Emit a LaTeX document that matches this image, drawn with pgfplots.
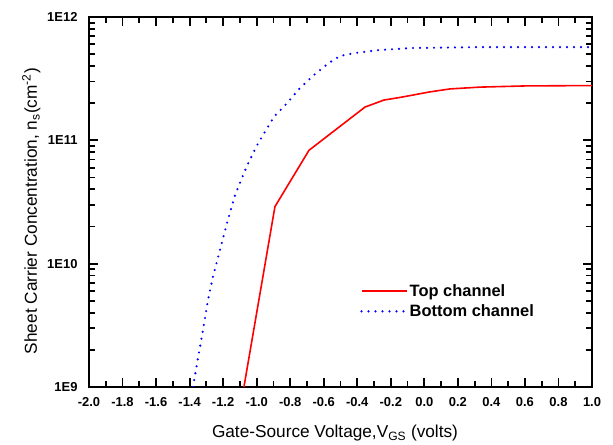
\documentclass[border=0pt]{standalone}
\usepackage{fontspec}
\setmainfont{Liberation Sans}
\usepackage{pgfplots}
\pgfplotsset{compat=1.18}

\begin{document}
\begin{tikzpicture}
\begin{axis}[
  scale only axis,
  width=503bp, height=370bp,
  ymode=log,
  xmin=-2, xmax=1, ymin=1e9, ymax=1e12,
  tick align=inside,
  xtick pos=both, ytick pos=both,
  major tick length=9bp, minor tick length=6bp,
  every tick/.append style={black,line width=1.8bp},
  axis line style={black,line width=1.5bp},
  xtick={-2,-1.8,...,1.01},
  minor x tick num=1,
  ytick={1e9,1e10,1e11,1e12},
  yticklabels={1E9,1E10,1E11,1E12},
  xticklabel={\pgfmathprintnumber[assume math mode=true,fixed,fixed zerofill,precision=1]{\tick}},
  xticklabel style={font=\bfseries\fontsize{13}{13}\selectfont,anchor=base,yshift=-20bp},
  yticklabel style={font=\bfseries\fontsize{13}{13}\selectfont,xshift=-8bp},
  xlabel={Gate-Source Voltage,V\textsubscript{GS} (volts)},
  ylabel={Sheet Carrier Concentration, n\textsubscript{s}(cm\textsuperscript{-2})},
  label style={font=\fontsize{17.3}{17.3}\selectfont},
  xlabel style={at={(axis description cs:0.489,-0.1378)},anchor=base},
  ylabel style={at={(axis description cs:-0.1034,0.475)},anchor=base},
  legend style={at={(axis description cs:0.539,0.232)},anchor=west,draw=none,fill=none,
    inner sep=0pt,row sep=3bp,font=\bfseries\fontsize{16.5}{16.5}\selectfont},
  legend cell align={left},
  legend image code/.code={\draw[#1] (0bp,0bp) -- (45bp,0bp);},
]
% top channel
\addplot[red,line width=1.6bp] coordinates {
  (-1.076,1e9) (-0.891,2.9e10) (-0.688,8.3e10) (-0.354,1.86e11)
  (-0.241,2.12e11) (-0.134,2.24e11) (0.033,2.47e11) (0.153,2.61e11)
  (0.332,2.70e11) (0.6,2.76e11) (1.0,2.78e11)
};
\addlegendentry{Top channel}
% bottom channel
\addplot[blue,line width=2.4bp,line cap=round,dash pattern=on 0pt off 7bp] coordinates {
  (-1.38,1e9) (-1.35,1.71e9) (-1.32,2.9e9) (-1.29,5.1e9) (-1.261,7.8e9)
  (-1.219,1.29e10) (-1.177,2.13e10) (-1.129,3.6e10) (-1.1,4.5e10)
  (-1.058,6.2e10) (-1.0,9.0e10) (-0.951,1.17e11) (-0.897,1.55e11)
  (-0.819,2.0e11) (-0.748,2.6e11) (-0.658,3.39e11) (-0.569,4.24e11)
  (-0.503,4.83e11) (-0.414,5.1e11) (-0.265,5.4e11) (-0.068,5.6e11)
  (0.332,5.7e11) (1.0,5.7e11)
};
\addlegendentry{Bottom channel}
\end{axis}
\path (current axis.south west) ++(-89bp,-54bp) rectangle ([xshift=21bp,yshift=17bp]current axis.north east);
\end{tikzpicture}
\end{document}
